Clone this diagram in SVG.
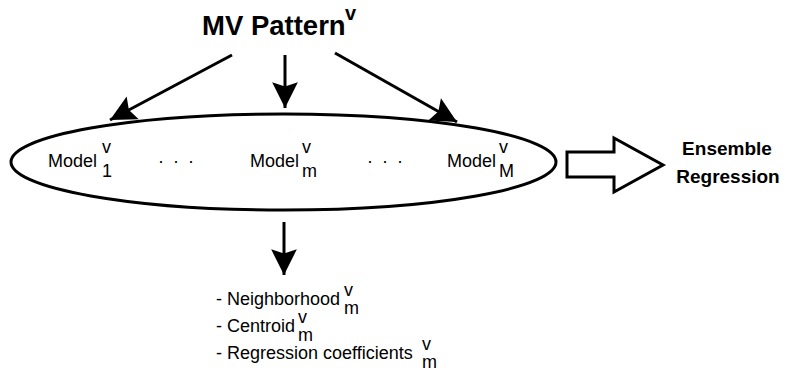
<svg xmlns="http://www.w3.org/2000/svg" width="786" height="374" viewBox="0 0 786 374">
<defs>
<style>
text{font-family:"Liberation Sans",Arial,sans-serif;fill:#000}
.t{font-size:18px}
.b{font-weight:bold}
.e{font-size:19px;font-weight:bold}
.ln{stroke:#000;stroke-width:3;fill:none}
</style>
<marker id="ah" markerUnits="userSpaceOnUse" markerWidth="30" markerHeight="30" viewBox="-26 -13 28 26" refX="0" refY="0" orient="auto">
<path d="M0,0 L-24,-12 L-20,0 L-24,12 Z" fill="#000"/>
</marker>
</defs>
<rect width="786" height="374" fill="#fff"/>
<g id="title">
<text x="202" y="35" class="b" font-size="27.5">MV Pattern</text>
<text x="345" y="20" class="b" font-size="20">v</text>
</g>
<g id="connectors">
<line class="ln" x1="232" y1="55" x2="110" y2="120" marker-end="url(#ah)"/>
<line class="ln" x1="285" y1="55" x2="285" y2="108" marker-end="url(#ah)"/>
<line class="ln" x1="335" y1="53" x2="457" y2="122" marker-end="url(#ah)"/>
<line class="ln" x1="284" y1="222" x2="284" y2="275" marker-end="url(#ah)"/>
<polygon class="ln" fill="#fff" points="567,152 614,152 614,138 663,165 614,192 614,177 567,177"/>
</g>
<g id="models">
<ellipse class="ln" cx="283.5" cy="162" rx="272.5" ry="48"/>
<text class="t" x="48" y="167">Model</text>
<text class="t" x="102" y="153">v</text>
<text class="t" x="102" y="177">1</text>
<text class="t" x="177" y="167" text-anchor="middle" letter-spacing="2">· · ·</text>
<text class="t" x="250" y="167">Model</text>
<text class="t" x="302" y="153">v</text>
<text class="t" x="302" y="177">m</text>
<text class="t" x="386" y="167" text-anchor="middle" letter-spacing="2">· · ·</text>
<text class="t" x="447" y="167">Model</text>
<text class="t" x="499" y="153">v</text>
<text class="t" x="499" y="177">M</text>
</g>
<g id="ensemble">
<text class="e" x="727" y="155" text-anchor="middle">Ensemble</text>
<text class="e" x="728" y="183" text-anchor="middle">Regression</text>
</g>
<g id="outputs">
<text class="t" x="216" y="305">- Neighborhood</text>
<text class="t" x="344" y="296">v</text>
<text class="t" x="344" y="314">m</text>
<text class="t" x="216" y="332">- Centroid</text>
<text class="t" x="298" y="323">v</text>
<text class="t" x="298" y="341">m</text>
<text class="t" x="216" y="359">- Regression coefficients</text>
<text class="t" x="422" y="350">v</text>
<text class="t" x="422" y="368">m</text>
</g>
</svg>
